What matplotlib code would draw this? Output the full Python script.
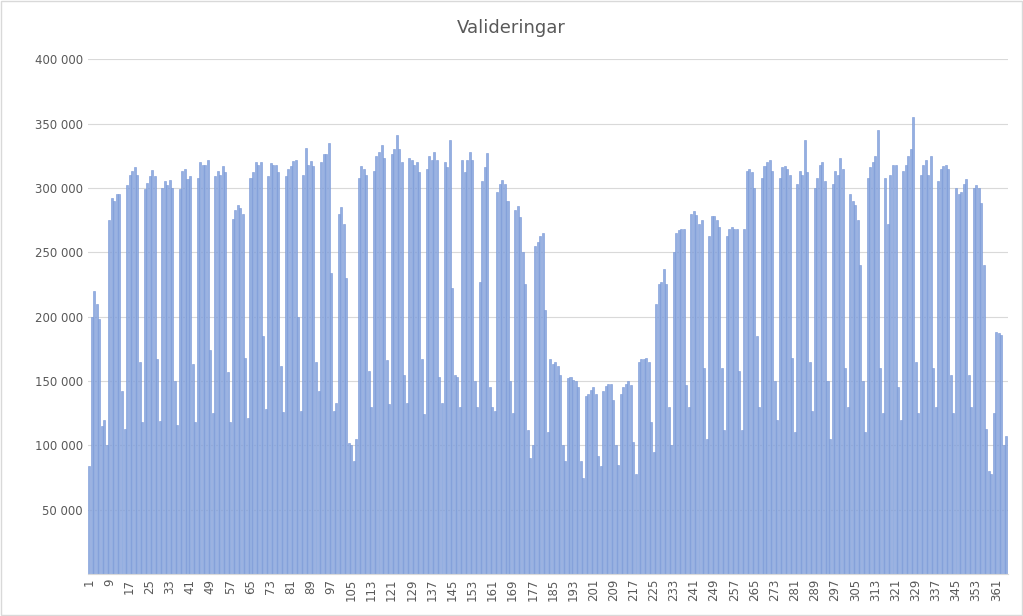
import matplotlib
matplotlib.use("Agg")
import matplotlib.pyplot as plt
from matplotlib.ticker import FuncFormatter

title = "Valideringar"
# daily validations (thousands), grouped per week (Mon..Sun); first day is a Sunday
first_day = [84]
q1 = [
    [200,220,210,198,115,120,100], [275,292,290,295,295,142,113], [302,310,313,316,310,165,118],
    [299,304,309,314,309,167,119], [300,305,302,306,300,150,116], [299,313,315,307,309,163,118],
    [308,320,318,318,322,174,125], [309,313,310,317,312,157,118], [276,283,287,284,280,168,121],
    [308,312,320,318,320,185,128], [309,319,318,318,312,162,126], [309,315,317,321,322,200,127],
    [310,331,318,321,317,165,142],
]
q2 = [
    [320,326,326,335,234,127,133], [280,285,272,230,102,100,88], [105,308,317,315,310,158,130],
    [313,325,328,333,323,166,132], [326,330,341,330,320,155,133], [323,322,318,320,312,167,124],
    [315,325,322,328,322,153,133], [320,316,337,222,155,153,130], [322,312,322,328,322,150,130],
    [227,305,316,327,145,130,127], [297,303,306,303,290,150,125], [283,286,277,250,225,112,90],
    [100,255,258,263,265,205,110],
]
q3 = [
    [167,163,165,162,155,100,88], [152,153,151,150,145,88,75], [138,140,143,145,140,92,84],
    [142,146,148,148,135,100,85], [140,145,148,150,147,103,78], [165,167,167,168,165,118,95],
    [210,225,227,237,225,130,100], [250,265,267,268,268,147,130], [280,282,279,272,275,160,105],
    [263,278,278,275,270,160,112], [263,268,270,268,268,158,112], [268,313,315,312,300,185,130],
    [308,317,320,322,313,150,120],
]
q4 = [
    [308,316,317,315,310,168,110], [303,313,310,337,312,165,127], [300,308,318,320,305,150,105],
    [303,313,310,323,315,160,130], [295,290,287,275,240,150,110], [308,316,320,325,345,160,125],
    [308,272,310,318,318,145,120], [313,318,325,330,355,165,125], [310,318,322,310,325,160,130],
    [305,315,317,318,315,155,125], [300,295,297,303,307,155,130], [300,302,300,288,240,113,80],
    [78,125,188,187,186,100,107],
]
values = list(first_day)
for q in (q1, q2, q3, q4):
    for w in q:
        values.extend(w)
values = [v * 1000 for v in values]
days = list(range(1, len(values) + 1))
tick_days = list(range(1, 366, 8))

fig = plt.figure(figsize=(10.23, 6.16), dpi=100)
ax = fig.add_axes([0.086, 0.068, 0.899, 0.836])
ax.bar(days, values, width=0.8, color="#94afe0", edgecolor="#7796d6", linewidth=0.4, zorder=2)
ax.set_xlim(0.5, 365.5)
ax.set_ylim(0, 400000)
ax.set_yticks(range(50000, 400001, 50000))
ax.yaxis.set_major_formatter(FuncFormatter(lambda v, p: f"{int(v):,}".replace(",", " ")))
ax.set_xticks(tick_days)
ax.set_xticklabels([str(d) for d in tick_days], rotation=90)
ax.tick_params(axis="both", length=0, labelsize=8.5, colors="#595959")
ax.grid(axis="y", color="#d9d9d9", linewidth=0.8, zorder=0)
for s in ("top", "right", "left"):
    ax.spines[s].set_visible(False)
ax.spines["bottom"].set_color("#d9d9d9")
fig.text(0.5, 0.955, title, ha="center", va="center", fontsize=13, color="#595959")
fig.patches.append(plt.Rectangle((0.001, 0.001), 0.998, 0.998, transform=fig.transFigure,
                                 fill=False, edgecolor="#d9d9d9", linewidth=1))
fig.savefig("out.png", dpi=100)
